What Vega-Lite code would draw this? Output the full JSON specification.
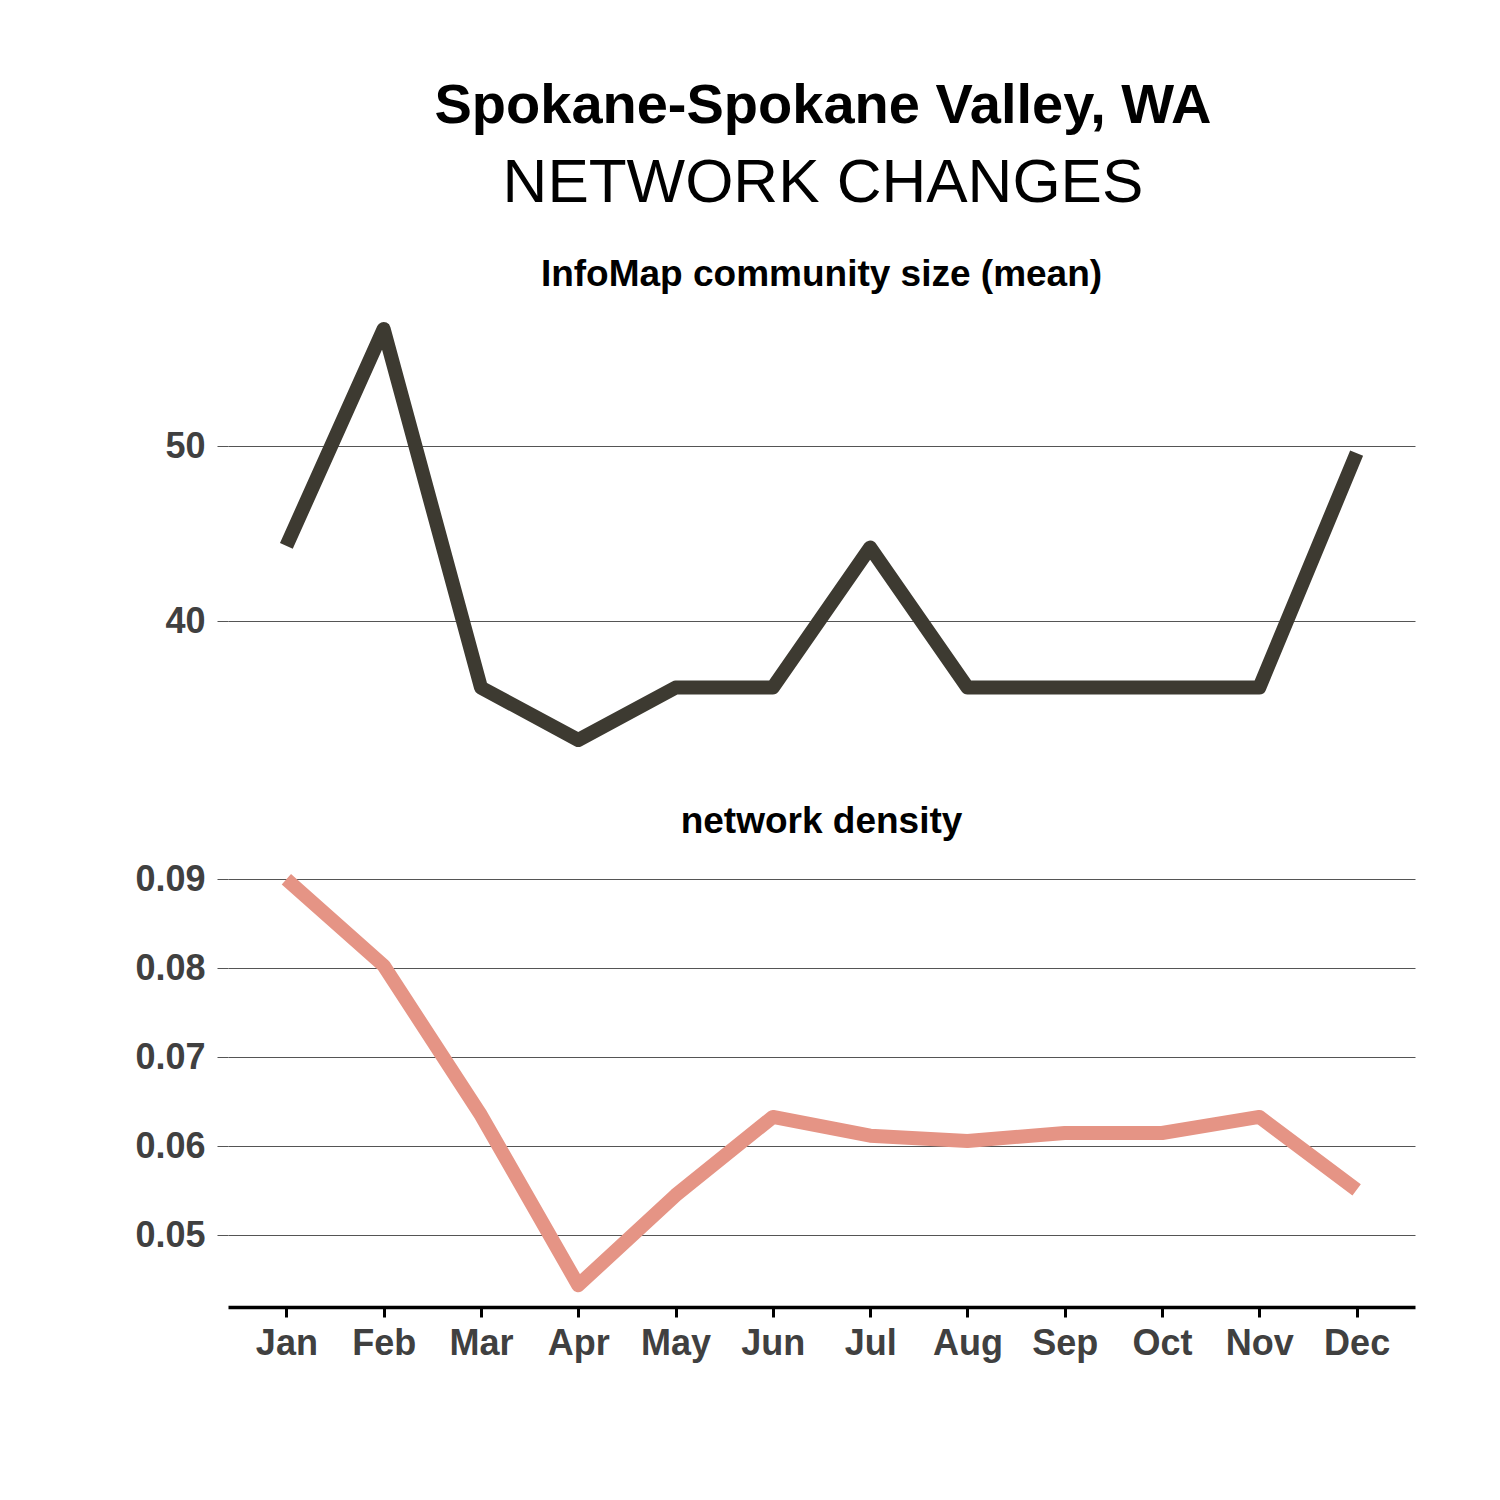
{
  "$schema": "https://vega.github.io/schema/vega-lite/v6.json",
  "background": "white",
  "padding": {"left": 134, "top": 78, "right": 10, "bottom": 10},
  "title": {
    "text": "Spokane-Spokane Valley, WA",
    "subtitle": "NETWORK CHANGES",
    "font": "Liberation Sans",
    "fontSize": 56,
    "fontWeight": "bold",
    "color": "#000000",
    "subtitleFont": "Liberation Sans",
    "subtitleFontSize": 62,
    "subtitleFontWeight": "normal",
    "subtitleColor": "#000000",
    "subtitlePadding": 18,
    "anchor": "middle",
    "dx": 48,
    "offset": 41
  },
  "datasets": {
    "net": [
      {"month": "Jan", "infomap": 44.3, "density": 0.0900},
      {"month": "Feb", "infomap": 56.7, "density": 0.0803},
      {"month": "Mar", "infomap": 36.2, "density": 0.0635},
      {"month": "Apr", "infomap": 33.2, "density": 0.0444},
      {"month": "May", "infomap": 36.2, "density": 0.0545},
      {"month": "Jun", "infomap": 36.2, "density": 0.0633},
      {"month": "Jul", "infomap": 44.2, "density": 0.0612},
      {"month": "Aug", "infomap": 36.2, "density": 0.0606},
      {"month": "Sep", "infomap": 36.2, "density": 0.0615},
      {"month": "Oct", "infomap": 36.2, "density": 0.0615},
      {"month": "Nov", "infomap": 36.2, "density": 0.0633},
      {"month": "Dec", "infomap": 49.6, "density": 0.0551}
    ]
  },
  "spacing": 42,
  "vconcat": [
    {
      "title": {"text": "InfoMap community size (mean)", "offset": 14},
      "width": 1187,
      "height": 453,
      "data": {"name": "net"},
      "mark": {"type": "line", "strokeWidth": 14, "strokeCap": "butt", "strokeJoin": "round", "color": "#3d3a31"},
      "encoding": {
        "x": {
          "field": "month", "type": "ordinal",
          "sort": ["Jan","Feb","Mar","Apr","May","Jun","Jul","Aug","Sep","Oct","Nov","Dec"],
          "scale": {"type": "point", "padding": 0.6},
          "axis": null
        },
        "y": {
          "field": "infomap", "type": "quantitative",
          "scale": {"domain": [32.0, 57.9], "nice": false, "zero": false},
          "axis": {"values": [40, 50], "title": null}
        }
      }
    },
    {
      "title": {"text": "network density", "offset": 18},
      "width": 1187,
      "height": 448,
      "data": {"name": "net"},
      "mark": {"type": "line", "strokeWidth": 14, "strokeCap": "butt", "strokeJoin": "round", "color": "#e59485"},
      "encoding": {
        "x": {
          "field": "month", "type": "ordinal",
          "sort": ["Jan","Feb","Mar","Apr","May","Jun","Jul","Aug","Sep","Oct","Nov","Dec"],
          "scale": {"type": "point", "padding": 0.6},
          "axis": {
            "title": null,
            "labelAngle": 0,
            "domain": true,
            "domainColor": "#000000",
            "domainWidth": 3.5,
            "ticks": true,
            "tickColor": "#000000",
            "tickWidth": 3,
            "tickSize": 10,
            "labelPadding": 9,
            "grid": false
          }
        },
        "y": {
          "field": "density", "type": "quantitative",
          "scale": {"domain": [0.04195, 0.09228], "nice": false, "zero": false},
          "axis": {"values": [0.05, 0.06, 0.07, 0.08, 0.09], "format": ".2f", "title": null}
        }
      }
    }
  ],
  "config": {
    "view": {"stroke": null},
    "font": "Liberation Sans",
    "title": {
      "font": "Liberation Sans",
      "fontSize": 37,
      "fontWeight": "bold",
      "color": "#000000",
      "anchor": "middle",
      "offset": 20
    },
    "axis": {
      "labelFont": "Liberation Sans",
      "labelFontSize": 36,
      "labelFontWeight": "bold",
      "labelColor": "#404040"
    },
    "axisY": {
      "domain": false,
      "grid": true,
      "gridColor": "#555555",
      "gridWidth": 1,
      "ticks": true,
      "tickColor": "#555555",
      "tickWidth": 1,
      "tickSize": 11,
      "labelPadding": 12
    }
  }
}
